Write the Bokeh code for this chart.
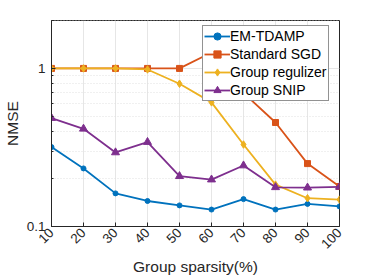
import math
from bokeh.plotting import figure
from bokeh.models import FixedTicker, Range1d, Legend, LegendItem
from bokeh.embed import file_html
from bokeh.resources import INLINE

sparsity = [10, 20, 30, 40, 50, 60, 70, 80, 90, 100]
x_tick_labels = ["10", "20", "30", "40", "50", "60", "70", "80", "90", "100"]
em_tdamp = [0.318, 0.233, 0.162, 0.145, 0.136, 0.128, 0.149, 0.128, 0.139, 0.134]
standard_sgd = [1.0, 1.0, 1.0, 1.0, 1.0, 1.26, 0.70, 0.455, 0.25, 0.179]
group_reg = [1.0, 1.0, 1.0, 0.985, 0.80, 0.61, 0.33, 0.184, 0.151, 0.148]
group_snip = [0.485, 0.415, 0.294, 0.342, 0.208, 0.198, 0.243, 0.177, 0.176, 0.178]
series_names = ["EM-TDAMP", "Standard SGD", "Group regulizer", "Group SNIP"]

colors = ["#0072BD", "#D95319", "#EDB120", "#7E2F8E"]
markers = ["circle", "square", "diamond", "triangle"]
msizes = [5, 6, 7.5, 8]
FONT = "Liberation Sans"
AX = "#262626"

p = figure(width=374, height=280, y_axis_type="log",
           x_range=Range1d(10, 100), y_range=Range1d(0.1, 2.01),
           output_backend="svg", toolbar_location=None,
           min_border_left=48, min_border_right=35,
           min_border_top=20, min_border_bottom=54)
p.outline_line_color = AX
p.outline_line_width = 1
p.background_fill_color = "white"

p.xaxis.ticker = FixedTicker(ticks=sparsity)
p.xaxis.major_label_overrides = {v: s for v, s in zip(sparsity, x_tick_labels)}
p.xaxis.major_label_orientation = math.pi / 4
p.yaxis.ticker = FixedTicker(ticks=[0.1, 1], minor_ticks=[0.2, 0.3, 0.4, 0.5, 0.6, 0.7, 0.8, 0.9, 2])
p.yaxis.major_label_overrides = {0.1: "0.1", 1: "1"}

for ax in [p.xaxis[0], p.yaxis[0]]:
    ax.axis_line_color = AX
    ax.major_tick_line_color = AX
    ax.minor_tick_line_color = AX
    ax.major_tick_in = 4
    ax.major_tick_out = 0
    ax.minor_tick_in = 2
    ax.minor_tick_out = 0
    ax.major_label_text_font = FONT
    ax.major_label_text_font_size = "13.5px"
    ax.major_label_text_color = AX
    ax.axis_label_text_font = FONT
    ax.axis_label_text_font_size = "15.5px"
    ax.axis_label_text_color = AX
    ax.axis_label_text_font_style = "normal"
p.xaxis.minor_tick_line_color = None
p.xaxis.axis_label = "Group sparsity(%)"
p.yaxis.axis_label = "NMSE"
p.xaxis.major_label_standoff = 4
p.yaxis.major_label_standoff = 6
p.xaxis.axis_label_standoff = 2
p.yaxis.axis_label_standoff = 3

p.xgrid.grid_line_color = "#e6e6e6"
p.xgrid.grid_line_width = 1
p.ygrid.grid_line_color = "#e6e6e6"
p.ygrid.minor_grid_line_color = "#e0e0e0"
p.ygrid.minor_grid_line_dash = "1 2"

items = []
for name, ys, c, m, s in zip(series_names, [em_tdamp, standard_sgd, group_reg, group_snip], colors, markers, msizes):
    r1 = p.line(sparsity, ys, line_color=c, line_width=1.8)
    r2 = p.scatter(sparsity, ys, marker=m, size=s, fill_color=c, line_color=c)
    items.append(LegendItem(label=name, renderers=[r1, r2]))

leg = Legend(items=items, location=(151, 125))
leg.label_text_font = FONT
leg.label_text_font_size = "14px"
leg.label_text_color = "black"
leg.border_line_color = AX
leg.border_line_width = 1
leg.background_fill_alpha = 1
leg.padding = 1
leg.margin = 0
leg.spacing = 0
leg.glyph_width = 26
leg.glyph_height = 18
leg.label_height = 18
leg.label_standoff = 0
p.add_layout(leg, "center")

open("out.html", "w").write(file_html(p, INLINE))
